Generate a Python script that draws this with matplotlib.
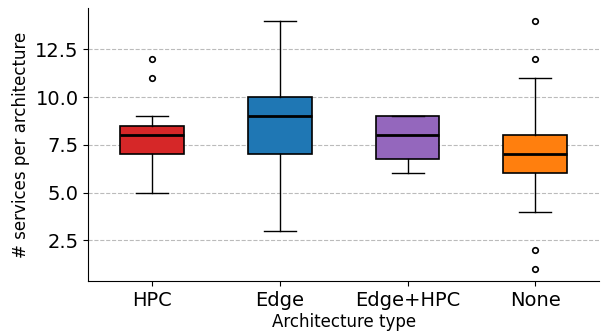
import matplotlib
matplotlib.use("Agg")
import matplotlib.pyplot as plt

categories = ["HPC", "Edge", "Edge+HPC", "None"]
colors = ["#d62728", "#1f77b4", "#9467bd", "#ff7f0e"]
whislo = [5, 3, 6, 4]
q1 = [7, 7, 6.75, 6]
med = [8, 9, 8, 7]
q3 = [8.5, 10, 9, 8]
whishi = [9, 14, 9, 11]
fliers = [[11, 12], [], [], [12, 14, 2, 1]]

stats = []
for i, c in enumerate(categories):
    stats.append(dict(label=c, whislo=whislo[i], q1=q1[i], med=med[i],
                      q3=q3[i], whishi=whishi[i], fliers=fliers[i]))

fig, ax = plt.subplots(figsize=(6.02, 3.33), dpi=100)
bp = ax.bxp(stats, patch_artist=True, widths=0.5,
            medianprops=dict(color="black", linewidth=2),
            flierprops=dict(marker="o", markersize=4, markerfacecolor="white",
                            markeredgecolor="black", markeredgewidth=1.2),
            boxprops=dict(linewidth=1.2),
            whiskerprops=dict(linewidth=1),
            capprops=dict(linewidth=1))
for patch, col in zip(bp["boxes"], colors):
    patch.set_facecolor(col)
    patch.set_edgecolor("black")

ax.set_ylim(0.35, 14.65)
ax.set_xlim(0.5, 4.5)
ax.set_yticks([2.5, 5.0, 7.5, 10.0, 12.5])
ax.yaxis.grid(True, linestyle="--", color="#bbbbbb", linewidth=0.8)
ax.set_axisbelow(True)
ax.spines["top"].set_visible(False)
ax.spines["right"].set_visible(False)
ax.tick_params(axis="both", labelsize=14)
ax.set_xlabel("Architecture type", fontsize=12, labelpad=2)
ax.set_ylabel("# services per architecture", fontsize=12)

fig.subplots_adjust(left=0.147, right=0.995, top=0.975, bottom=0.155)
fig.savefig("out.png", dpi=100)
